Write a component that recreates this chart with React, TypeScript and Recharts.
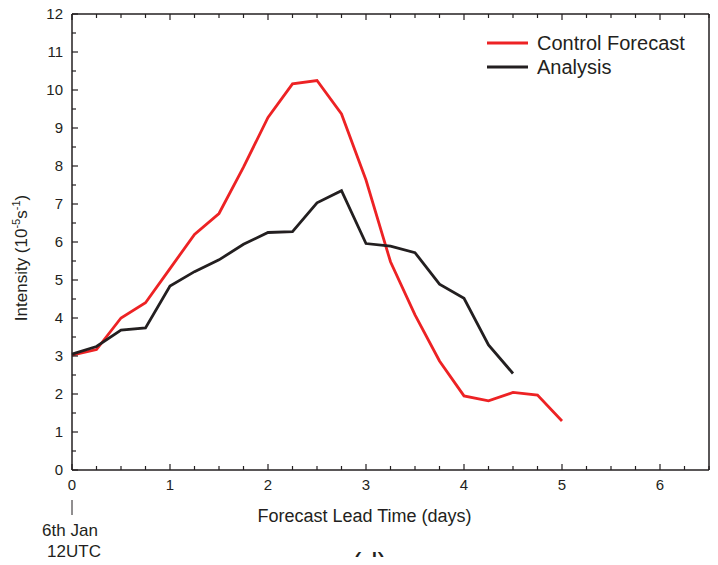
import React from "react";
import { LineChart, Line, XAxis, YAxis, Legend } from "recharts";

const days = [0, 0.25, 0.5, 0.75, 1, 1.25, 1.5, 1.75, 2, 2.25, 2.5, 2.75, 3, 3.25, 3.5, 3.75, 4, 4.25, 4.5, 4.75, 5];
const controlForecast = [3.02, 3.17, 4.0, 4.4, 5.3, 6.2, 6.75, 7.97, 9.28, 10.16, 10.25, 9.37, 7.63, 5.48, 4.08, 2.87, 1.95, 1.82, 2.04, 1.97, 1.29];
const analysis = [3.05, 3.25, 3.68, 3.74, 4.84, 5.22, 5.53, 5.94, 6.25, 6.27, 7.03, 7.35, 5.96, 5.89, 5.72, 4.89, 4.52, 3.29, 2.54, null, null];

const xTicks = [0, 0.25, 0.5, 0.75, 1, 1.25, 1.5, 1.75, 2, 2.25, 2.5, 2.75, 3, 3.25, 3.5, 3.75, 4, 4.25, 4.5, 4.75, 5, 5.25, 5.5, 5.75, 6, 6.25, 6.5];
const yTicks = [0, 0.5, 1, 1.5, 2, 2.5, 3, 3.5, 4, 4.5, 5, 5.5, 6, 6.5, 7, 7.5, 8, 8.5, 9, 9.5, 10, 10.5, 11, 11.5, 12];

const data = days.map((d, i) => ({
  day: d,
  control: controlForecast[i],
  analysis: analysis[i],
}));

const COLORS = {
  control: "#ed2224",
  analysis: "#231f20",
  axis: "#231f20",
  text: "#231f20",
};

const FONT = "'Liberation Sans', Arial, sans-serif";
const MAJOR = 6;
const MINOR = 4;

const isMajor = (v: number) => Math.abs(v - Math.round(v)) < 1e-6;

function BottomTick({ x, y, payload }: any) {
  const v = payload.value;
  const major = isMajor(v);
  return (
    <g>
      <line x1={x} x2={x} y1={y} y2={y - (major ? MAJOR : MINOR)} stroke={COLORS.axis} strokeWidth={1.2} />
      {major && (
        <text x={x} y={y + 20} textAnchor="middle" fontSize={15} fill={COLORS.text} fontFamily={FONT}>
          {v}
        </text>
      )}
      {v === 0 && (
        <g>
          <line x1={x} x2={x} y1={y + 30} y2={y + 45} stroke={COLORS.axis} strokeWidth={1} />
          <text x={x - 2} y={y + 66} textAnchor="middle" fontSize={17} fill={COLORS.text} fontFamily={FONT}>
            6th Jan
          </text>
          <text x={x + 2} y={y + 87} textAnchor="middle" fontSize={17} fill={COLORS.text} fontFamily={FONT}>
            12UTC
          </text>
        </g>
      )}
    </g>
  );
}

function TopTick({ x, y, payload }: any) {
  const major = isMajor(payload.value);
  return <line x1={x} x2={x} y1={y} y2={y + (major ? MAJOR : MINOR)} stroke={COLORS.axis} strokeWidth={1.2} />;
}

function LeftTick({ x, y, payload }: any) {
  const v = payload.value;
  const major = isMajor(v);
  return (
    <g>
      <line x1={x} x2={x + (major ? MAJOR : MINOR)} y1={y} y2={y} stroke={COLORS.axis} strokeWidth={1.2} />
      {major && (
        <text x={x - 9} y={y + 5} textAnchor="end" fontSize={15} fill={COLORS.text} fontFamily={FONT}>
          {v}
        </text>
      )}
    </g>
  );
}

function RightTick({ x, y, payload }: any) {
  const major = isMajor(payload.value);
  return <line x1={x} x2={x - (major ? MAJOR : MINOR)} y1={y} y2={y} stroke={COLORS.axis} strokeWidth={1.2} />;
}

function YTitle() {
  return (
    <text transform="translate(27, 258) rotate(-90)" textAnchor="middle" fontSize={17} fill={COLORS.text} fontFamily={FONT}>
      Intensity (10
      <tspan fontSize={11} dy={-7}>-5</tspan>
      <tspan dy={7}>s</tspan>
      <tspan fontSize={11} dy={-7}>-1</tspan>
      <tspan dy={7}>)</tspan>
    </text>
  );
}

function XTitle({ viewBox }: any) {
  const cx = viewBox.x + viewBox.width / 2;
  return (
    <g>
      <text x={cx - 26} y={viewBox.y + 52} textAnchor="middle" fontSize={18} fill={COLORS.text} fontFamily={FONT}>
        Forecast Lead Time (days)
      </text>
      <text x={cx - 21} y={viewBox.y + 104} textAnchor="middle" fontSize={29} fill={COLORS.text} fontFamily={FONT}>
        (d)
      </text>
    </g>
  );
}

function LegendBox() {
  const items = [
    { label: "Control Forecast", color: COLORS.control },
    { label: "Analysis", color: COLORS.analysis },
  ];
  return (
    <div style={{ fontFamily: FONT, fontSize: 20, color: COLORS.text, lineHeight: "24px" }}>
      {items.map((it) => (
        <div key={it.label} style={{ display: "flex", alignItems: "center" }}>
          <svg width={50} height={24}>
            <line x1={0} x2={41} y1={12} y2={12} stroke={it.color} strokeWidth={3} />
          </svg>
          <span>{it.label}</span>
        </div>
      ))}
    </div>
  );
}

export default function App() {
  return (
    <div style={{ margin: -8, width: 718, height: 565, background: "#fff", overflow: "hidden" }}>
      <LineChart width={718} height={565} data={data} margin={{ top: 13, right: 8, bottom: 65, left: 0 }}>
        <XAxis
          dataKey="day"
          type="number"
          domain={[0, 6.5]}
          ticks={xTicks}
          interval={0}
          height={30}
          tickSize={0}
          tickMargin={0}
          tickLine={false}
          axisLine={{ stroke: COLORS.axis, strokeWidth: 1.5 }}
          tick={<BottomTick />}
          label={{ content: <XTitle /> }}
        />
        <XAxis
          xAxisId="top"
          orientation="top"
          dataKey="day"
          type="number"
          domain={[0, 6.5]}
          ticks={xTicks}
          interval={0}
          height={1}
          tickSize={0}
          tickMargin={0}
          tickLine={false}
          axisLine={{ stroke: COLORS.axis, strokeWidth: 1.5 }}
          tick={<TopTick />}
        />
        <YAxis
          type="number"
          domain={[0, 12]}
          ticks={yTicks}
          interval={0}
          width={72}
          tickSize={0}
          tickMargin={0}
          tickLine={false}
          axisLine={{ stroke: COLORS.axis, strokeWidth: 1.5 }}
          tick={<LeftTick />}
          label={{ content: <YTitle /> }}
        />
        <YAxis
          yAxisId="right"
          orientation="right"
          type="number"
          domain={[0, 12]}
          ticks={yTicks}
          interval={0}
          width={1}
          tickSize={0}
          tickMargin={0}
          tickLine={false}
          axisLine={{ stroke: COLORS.axis, strokeWidth: 1.5 }}
          tick={<RightTick />}
        />
        <Legend
          layout="vertical"
          align="center"
          verticalAlign="middle"
          content={<LegendBox />}
          wrapperStyle={{ top: 31, left: 487, width: 225 }}
        />
        <Line
          dataKey="control"
          name="Control Forecast"
          stroke={COLORS.control}
          strokeWidth={2.8}
          dot={false}
          isAnimationActive={false}
          strokeLinejoin="miter"
        />
        <Line
          dataKey="analysis"
          name="Analysis"
          stroke={COLORS.analysis}
          strokeWidth={2.8}
          dot={false}
          isAnimationActive={false}
          strokeLinejoin="miter"
        />
      </LineChart>
    </div>
  );
}
